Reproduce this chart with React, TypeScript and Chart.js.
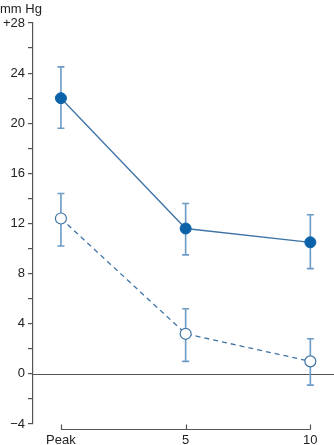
import React, { useEffect, useRef } from "react";
import { Chart, registerables } from "chart.js";

Chart.register(...registerables);

const xValues = [0, 5, 10];
const xLabels = ["Peak", "5", "10"];
const filledMean = [22.0, 11.6, 10.5];
const filledLow = [19.6, 9.5, 8.4];
const filledHigh = [24.5, 13.6, 12.7];
const openMean = [12.4, 3.2, 1.0];
const openLow = [10.2, 1.0, -0.9];
const openHigh = [14.4, 5.2, 2.8];
const yUnit = "mm Hg";

const FONT = "'Liberation Sans', Arial, Helvetica, sans-serif";
const AXIS = "#555555";
const LINE = "#3f74a6";
const ERR = "#6b9bc6";
const FILL = "#0b62a8";

const errorBars = {
  id: "errorBars",
  beforeDatasetsDraw(chart: any) {
    const { ctx, chartArea, scales } = chart;
    const x = scales.x;
    const y = scales.y;
    ctx.save();
    ctx.strokeStyle = AXIS;
    ctx.lineWidth = 1.2;
    ctx.beginPath();
    const y0 = Math.round(y.getPixelForValue(0)) + 0.5;
    ctx.moveTo(chartArea.left, y0);
    ctx.lineTo(chart.width, y0);
    ctx.stroke();
    const sets = [
      [filledLow, filledHigh],
      [openLow, openHigh],
    ];
    ctx.strokeStyle = ERR;
    ctx.lineWidth = 1.6;
    sets.forEach(([lo, hi]) => {
      xValues.forEach((xv, i) => {
        const px = x.getPixelForValue(xv);
        const pl = y.getPixelForValue(lo[i]);
        const ph = y.getPixelForValue(hi[i]);
        ctx.beginPath();
        ctx.moveTo(px, pl);
        ctx.lineTo(px, ph);
        ctx.moveTo(px - 3.5, pl);
        ctx.lineTo(px + 3.5, pl);
        ctx.moveTo(px - 3.5, ph);
        ctx.lineTo(px + 3.5, ph);
        ctx.stroke();
      });
    });
    ctx.restore();
  },
  afterDraw(chart: any) {
    const { ctx, chartArea, scales } = chart;
    const x = scales.x;
    ctx.save();
    const ly = chartArea.bottom + 5.5;
    const x0 = x.getPixelForValue(xValues[0]);
    const x1 = x.getPixelForValue(xValues[xValues.length - 1]);
    ctx.strokeStyle = AXIS;
    ctx.lineWidth = 1.2;
    ctx.beginPath();
    ctx.moveTo(x0, ly);
    ctx.lineTo(x1, ly);
    xValues.forEach((xv) => {
      const px = Math.round(x.getPixelForValue(xv)) + 0.5;
      ctx.moveTo(px, ly);
      ctx.lineTo(px, ly - 5);
    });
    ctx.stroke();
    ctx.fillStyle = "#222";
    ctx.font = `13px ${FONT}`;
    ctx.textAlign = "left";
    ctx.textBaseline = "top";
    ctx.fillText(yUnit, 0, 3);
    ctx.restore();
  },
};

export default function App() {
  const ref = useRef<HTMLCanvasElement>(null);
  useEffect(() => {
    if (!ref.current) return;
    const chart = new Chart(ref.current, {
      type: "line",
      data: {
        datasets: [
          {
            data: xValues.map((x, i) => ({ x, y: filledMean[i] })),
            borderColor: LINE,
            borderWidth: 1.3,
            pointRadius: 5.5,
            pointBackgroundColor: FILL,
            pointBorderColor: FILL,
            pointBorderWidth: 1,
            fill: false,
            tension: 0,
          },
          {
            data: xValues.map((x, i) => ({ x, y: openMean[i] })),
            borderColor: LINE,
            borderWidth: 1.3,
            borderDash: [5, 4],
            pointRadius: 5.5,
            pointBackgroundColor: "#ffffff",
            pointBorderColor: LINE,
            pointBorderWidth: 1.2,
            fill: false,
            tension: 0,
          },
        ],
      },
      options: {
        animation: false,
        responsive: false,
        layout: { padding: { top: 23, right: 0, left: 0, bottom: 0 } },
        plugins: { legend: { display: false }, tooltip: { enabled: false } },
        scales: {
          x: {
            type: "linear",
            min: -1.12,
            max: 10.68,
            grid: { display: false, drawTicks: false },
            border: { display: false },
            afterBuildTicks: (s: any) => {
              s.ticks = xValues.map((v) => ({ value: v }));
            },
            afterFit: (s: any) => {
              s.height = 21;
            },
            ticks: {
              padding: 9,
              color: "#222",
              font: { family: FONT, size: 13 },
              maxRotation: 0,
              callback: (v: any) => {
                const i = xValues.indexOf(Number(v));
                return i >= 0 ? xLabels[i] : "";
              },
            },
          },
          y: {
            min: -4,
            max: 28,
            afterFit: (s: any) => {
              s.width = 33;
            },
            grid: {
              drawOnChartArea: false,
              drawTicks: true,
              tickLength: 5,
              color: AXIS,
              lineWidth: 1.2,
            },
            border: { display: true, color: AXIS, width: 1.2 },
            ticks: {
              stepSize: 2,
              padding: 3,
              color: "#222",
              font: { family: FONT, size: 13 },
              callback: (v: any) => {
                const n = Number(v);
                if (n % 4 !== 0) return "";
                if (n === 28) return "+28";
                if (n < 0) return "\u2212" + Math.abs(n);
                return String(n);
              },
            },
          },
        },
      },
      plugins: [errorBars],
    });
    return () => chart.destroy();
  }, []);
  return (
    <div style={{ position: "fixed", left: 0, top: 0, width: 334, height: 445, background: "#fff" }}>
      <canvas ref={ref} width={334} height={445} style={{ width: 334, height: 445 }} />
    </div>
  );
}
